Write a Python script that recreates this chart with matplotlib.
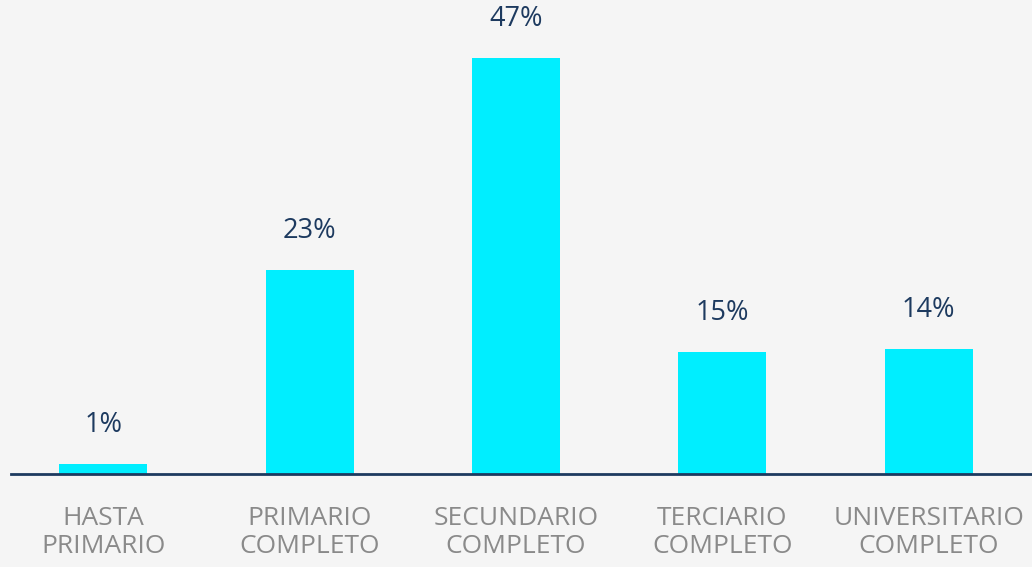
import matplotlib.pyplot as plt

# Nivel educativo alcanzado (porcentaje)
categorias = ["HASTA\nPRIMARIO", "PRIMARIO\nCOMPLETO", "SECUNDARIO\nCOMPLETO",
              "TERCIARIO\nCOMPLETO", "UNIVERSITARIO\nCOMPLETO"]
valores = [1.1, 23.0, 47.0, 13.8, 14.1]
etiquetas = ["1%", "23%", "47%", "15%", "14%"]

FONDO = "#f5f5f5"
CIAN = "#00eeff"
AZUL = "#1d3a5f"
GRIS = "#8a8a8a"

plt.rcParams["font.family"] = ["Open Sans", "DejaVu Sans"]

fig = plt.figure(figsize=(10.32, 5.67), dpi=100, facecolor=FONDO)
ax = fig.add_axes([0, 93 / 567, 1, 442.6 / 567])
ax.set_facecolor(FONDO)

x = range(len(valores))
bars = ax.bar(x, valores, width=0.426, color=CIAN, zorder=2)

for b, lab in zip(bars, etiquetas):
    ax.annotate(lab, (b.get_x() + b.get_width() / 2, b.get_height()),
                xytext=(0, 18), textcoords="offset points",
                ha="center", va="bottom", fontsize=19.5, color=AZUL)

ax.set_xlim(-0.5, 4.5)
ax.set_ylim(0, 50)
ax.set_xticks(list(x))
ax.set_xticklabels(categorias, fontsize=19, color=GRIS, linespacing=1.15)
ax.tick_params(axis="x", length=0, pad=23)
ax.set_yticks([])
for s in ax.spines.values():
    s.set_visible(False)

# linea base
ax.plot([11 / 1032, 1], [0, 0], transform=ax.transAxes, color=AZUL,
        lw=2, clip_on=False, zorder=3)

fig.savefig("out.png", dpi=100, facecolor=FONDO)
